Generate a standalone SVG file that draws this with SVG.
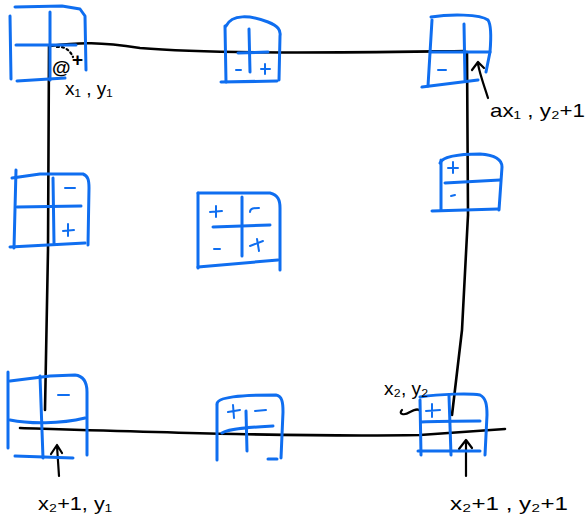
<svg xmlns="http://www.w3.org/2000/svg" width="587" height="519" viewBox="0 0 587 519">
<style>
.b{fill:none;stroke:#0f6ef0;stroke-width:3;stroke-linecap:round;stroke-linejoin:round}
.k{fill:none;stroke:#000;stroke-width:2.6;stroke-linecap:round;stroke-linejoin:round}
.a{fill:none;stroke:#000;stroke-width:2.2;stroke-linecap:round;stroke-linejoin:round}
.s{fill:none;stroke:#0f6ef0;stroke-width:2;stroke-linecap:round}
.t{font-family:"Liberation Sans",sans-serif;font-size:19px;fill:#000}
</style>
<rect width="587" height="519" fill="#fff"/>
<g id="connectors">
<path class="k" d="M50,46 C80,42 100,42 140,48 C220,55 380,52 465,51"/>
<path class="k" d="M49,46 L48,250 L45,410"/>
<path class="k" d="M467,52 L468,215 L462,330 L452,415"/>
<path class="k" d="M20,428 C150,432 300,437 420,435 L505,429"/>
<path class="a" d="M59,476 L57,446 M51,454 L57,445 L62,453"/>
<path class="a" d="M466,476 L466,441 M459,449 L466,440 L472,448"/>
<path class="a" d="M488,98 C484,85 480,75 478,64 M472,70 L478,62 L484,68"/>
<path class="a" d="M402,410 C398,414 404,416 410,412 C414,410 418,408 420,411"/>
<path class="a" stroke-dasharray="2 3" d="M57,47 C64,46 70,50 73,57"/>
</g>
<g id="box-top-left">
<path class="b" d="M15,7 L62,6 L80,9 L85,16 L86,70"/>
<path class="b" d="M10,16 L11,79"/>
<path class="b" d="M17,81 L65,78"/>
<path class="b" d="M16,45 L76,45"/>
<path class="b" d="M50,12 L50,80"/>
<text class="t" x="52" y="74" font-size="22" font-weight="bold">@</text>
<text class="t" x="72" y="66" font-size="17" font-weight="bold">+</text>
<text class="t" x="65" y="95">x₁ , y₁</text>
</g>
<g id="box-top-mid">
<path class="b" d="M226,26 C232,14 250,15 268,22 C278,26 281,30 280,36 L279,80"/>
<path class="b" d="M225,26 L226,82"/>
<path class="b" d="M221,82 L277,81"/>
<path class="b" d="M238,53 L268,52"/>
<path class="b" d="M249,29 L250,72"/>
<path class="s" d="M236,70 L241,70 M261,69 L270,69 M265,64 L265,74"/>
</g>
<g id="box-top-right">
<path class="b" d="M431,17 C450,14 480,14 488,20 C492,26 491,40 490,52 L486,72"/>
<path class="b" d="M432,20 L428,86"/>
<path class="b" d="M422,87 L478,80"/>
<path class="b" d="M430,52 L490,52"/>
<path class="b" d="M464,24 L465,80"/>
<path class="s" d="M438,70 L446,70"/>
<text class="t" x="490" y="117" font-size="24" textLength="95" lengthAdjust="spacingAndGlyphs">ax₁ , y₂+1</text>
</g>
<g id="box-left-mid">
<path class="b" d="M12,178 L40,174 L83,174 C88,176 89,180 89,188 L88,245"/>
<path class="b" d="M16,170 L14,248"/>
<path class="b" d="M10,247 L85,243"/>
<path class="b" d="M17,207 L81,206"/>
<path class="b" d="M53,178 L54,243"/>
<path class="s" d="M65,188 L75,188 M63,231 L74,230 M68,224 L68,236"/>
</g>
<g id="box-center">
<path class="b" d="M198,193 L270,193 C278,195 280,200 280,208 L280,270"/>
<path class="b" d="M198,193 L198,268"/>
<path class="b" d="M198,267 L278,260"/>
<path class="b" d="M213,227 L270,225"/>
<path class="b" d="M242,197 L242,256"/>
<path class="s" d="M210,212 L222,211 M216,206 L216,217 M250,212 C250,208 254,208 259,208 M214,249 L220,249 M250,246 L263,241 M257,239 L259,251"/>
</g>
<g id="box-right-mid">
<path class="b" d="M440,163 C443,156 460,154 480,154 C495,155 502,160 502,167 L499,210"/>
<path class="b" d="M441,160 L441,210"/>
<path class="b" d="M432,211 L498,209"/>
<path class="b" d="M445,183 L500,180"/>
<path class="s" d="M448,168 L458,168 M453,162 L453,173 M451,196 L455,195"/>
</g>
<g id="box-bottom-left">
<path class="b" d="M10,381 L50,376 L75,375 C84,376 87,382 87,392 L87,455"/>
<path class="b" d="M8,372 L8,448"/>
<path class="b" d="M15,456 L73,458"/>
<path class="b" d="M10,420 C30,424 60,424 85,418"/>
<path class="b" d="M40,376 L43,458"/>
<path class="s" d="M58,395 L69,395"/>
<text class="t" x="38" y="510" font-size="23" textLength="74" lengthAdjust="spacingAndGlyphs">x₂+1, y₁</text>
</g>
<g id="box-bottom-mid">
<path class="b" d="M217,404 C217,397 240,395 276,395 C282,396 283,402 283,412 L281,458"/>
<path class="b" d="M217,405 L217,460"/>
<path class="b" d="M268,459 L277,459"/>
<path class="b" d="M222,433 C230,428 255,427 273,426"/>
<path class="b" d="M246,411 L247,451"/>
<path class="s" d="M228,412 L240,410 M233,405 L234,418 M255,411 L266,410"/>
</g>
<g id="box-bottom-right">
<path class="b" d="M420,397 C440,394 470,393 480,395 C486,398 487,405 487,415 L485,455"/>
<path class="b" d="M420,400 L421,455"/>
<path class="b" d="M418,451 L480,451"/>
<path class="b" d="M421,422 C440,421 465,421 480,421"/>
<path class="b" d="M449,396 L451,455"/>
<path class="s" d="M426,411 L440,410 M432,404 L432,417"/>
<text class="t" x="384" y="395" font-size="21">x₂, y₂</text>
<text class="t" x="450" y="510" font-size="23" textLength="118" lengthAdjust="spacingAndGlyphs">x₂+1 , y₂+1</text>
</g>
</svg>
